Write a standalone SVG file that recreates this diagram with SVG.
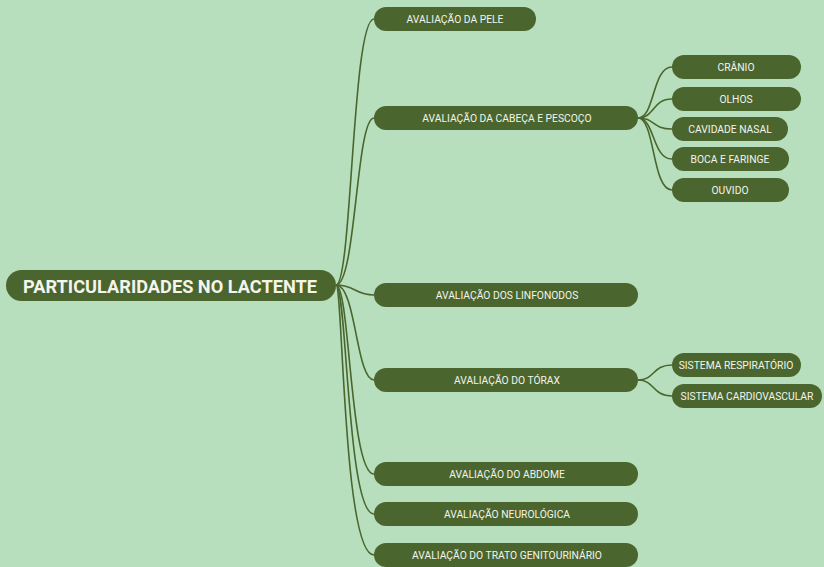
<svg xmlns="http://www.w3.org/2000/svg" width="824" height="567" viewBox="0 0 824 567">
  <style>
    .bg { fill: #b8dfbd; }
    .node rect { fill: #4a662e; }
    .node text { fill: #f4f4ec; font-family: Roboto, "Liberation Sans", sans-serif; font-size: 10.3px; text-anchor: middle; dominant-baseline: central; }
    #root text { font-size: 18.2px; font-weight: bold; }
    .links path { fill: none; stroke: #4a662e; stroke-width: 1.6; }
  </style>
  <rect class="bg" x="0" y="0" width="824" height="567"/>

  <g class="links">
    <!-- root to first level -->
    <path d="M336 285 C352 285, 352 19, 374 19"/>
    <path d="M336 285 C356 285, 356 118, 374 118"/>
    <path d="M336 285 C355 285, 355 295, 374 295"/>
    <path d="M336 285 C356 285, 356 380, 374 380"/>
    <path d="M336 285 C350 285, 350 474, 374 474"/>
    <path d="M336 285 C347 285, 347 514, 374 514"/>
    <path d="M336 285 C343 285, 343 555, 374 555"/>
    <!-- head and neck branches -->
    <path d="M638 118 C655 118, 652 67, 672 67"/>
    <path d="M638 118 C655 118, 652 99, 672 99"/>
    <path d="M638 118 C655 118, 652 129, 672 129"/>
    <path d="M638 118 C655 118, 652 159, 672 159"/>
    <path d="M638 118 C655 118, 652 190, 672 190"/>
    <!-- thorax branches -->
    <path d="M638 380 C655 380, 652 365, 672 365"/>
    <path d="M638 380 C655 380, 652 396, 672 396"/>
  </g>

  <g id="root" class="node">
    <rect x="6" y="270" width="330" height="31" rx="15.5"/>
    <text x="170" y="286">PARTICULARIDADES NO LACTENTE</text>
  </g>

  <g id="pele" class="node">
    <rect x="374" y="7" width="162" height="24" rx="12"/>
    <text x="455" y="19">AVALIAÇÃO DA PELE</text>
  </g>
  <g id="cabeca" class="node">
    <rect x="374" y="106" width="264" height="24" rx="12"/>
    <text x="507" y="118">AVALIAÇÃO DA CABEÇA E PESCOÇO</text>
  </g>
  <g id="linfonodos" class="node">
    <rect x="374" y="283" width="264" height="24" rx="12"/>
    <text x="507" y="295">AVALIAÇÃO DOS LINFONODOS</text>
  </g>
  <g id="torax" class="node">
    <rect x="374" y="368" width="264" height="24" rx="12"/>
    <text x="507" y="380">AVALIAÇÃO DO TÓRAX</text>
  </g>
  <g id="abdome" class="node">
    <rect x="374" y="462" width="264" height="24" rx="12"/>
    <text x="507" y="474">AVALIAÇÃO DO ABDOME</text>
  </g>
  <g id="neuro" class="node">
    <rect x="374" y="502" width="264" height="24" rx="12"/>
    <text x="507" y="514">AVALIAÇÃO NEUROLÓGICA</text>
  </g>
  <g id="genito" class="node">
    <rect x="374" y="543" width="264" height="24" rx="12"/>
    <text x="507" y="555">AVALIAÇÃO DO TRATO GENITOURINÁRIO</text>
  </g>

  <g id="cranio" class="node">
    <rect x="672" y="55" width="129" height="24" rx="12"/>
    <text x="736" y="67">CRÂNIO</text>
  </g>
  <g id="olhos" class="node">
    <rect x="672" y="87" width="129" height="24" rx="12"/>
    <text x="736" y="99">OLHOS</text>
  </g>
  <g id="nasal" class="node">
    <rect x="672" y="117" width="116" height="24" rx="12"/>
    <text x="730" y="129">CAVIDADE NASAL</text>
  </g>
  <g id="boca" class="node">
    <rect x="672" y="147" width="117" height="24" rx="12"/>
    <text x="730" y="159">BOCA E FARINGE</text>
  </g>
  <g id="ouvido" class="node">
    <rect x="672" y="178" width="117" height="24" rx="12"/>
    <text x="730" y="190">OUVIDO</text>
  </g>

  <g id="respiratorio" class="node">
    <rect x="672" y="353" width="129" height="24" rx="12"/>
    <text x="736" y="365">SISTEMA RESPIRATÓRIO</text>
  </g>
  <g id="cardio" class="node">
    <rect x="672" y="384" width="150" height="24" rx="12"/>
    <text x="747" y="396">SISTEMA CARDIOVASCULAR</text>
  </g>
</svg>
